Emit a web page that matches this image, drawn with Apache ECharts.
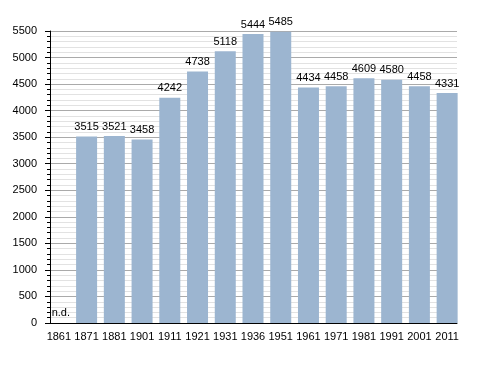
<!DOCTYPE html>
<html><head><meta charset="utf-8">
<script src="https://cdn.jsdelivr.net/npm/echarts@6/dist/echarts.min.js"></script>
<style>html,body{margin:0;padding:0;background:#fff}#c{width:488px;height:373px}</style>
</head><body><div id="c"></div>
<script>
var years = ['1861','1871','1881','1901','1911','1921','1931','1936','1951','1961','1971','1981','1991','2001','2011'];
var population = [null,3515,3521,3458,4242,4738,5118,5444,5485,4434,4458,4609,4580,4458,4331];
var yTicks = [0,500,1000,1500,2000,2500,3000,3500,4000,4500,5000,5500];

var chart = echarts.init(document.getElementById('c'));
var data = population.map(function(v){
  if (v === null) return {value: 0, label: {show: true, formatter: 'n.d.', position: 'insideBottom', offset: [2, -1]}};
  return v;
});
var yMin = yTicks[0], yMax = yTicks[yTicks.length-1];
chart.setOption({
  animation: false,
  textStyle: {fontFamily: 'Liberation Sans, Arial, sans-serif'},
  grid: [
    {left: 50, top: 31, right: 31, bottom: 50},
    {left: 45, top: 31, right: 27, bottom: 50}
  ],
  xAxis: [
    {gridIndex: 0, type: 'category', data: years,
     axisLine: {lineStyle: {color: '#000', width: 1}},
     axisTick: {show: false}, axisLabel: {show: false}},
    {gridIndex: 1, type: 'category', data: years,
     axisLine: {show: false}, axisTick: {show: false},
     axisLabel: {color: '#000', fontSize: 11, margin: 8, interval: 0}}
  ],
  yAxis: [
    {gridIndex: 0, type: 'value', min: yMin, max: yMax, interval: 500,
     axisLine: {show: true, lineStyle: {color: '#000'}},
     axisTick: {show: true, length: 5, lineStyle: {color: '#000'}},
     minorTick: {show: true, splitNumber: 5, length: 3, lineStyle: {color: '#000'}},
     axisLabel: {color: '#000', fontSize: 11, margin: 13, formatter: function(v){return String(v);}},
     splitLine: {lineStyle: {color: '#aaaaaa', width: 1}},
     minorSplitLine: {show: true, lineStyle: {color: '#e2e2e2', width: 1}}},
    {gridIndex: 1, type: 'value', min: yMin, max: yMax, interval: 500, show: false,
     splitLine: {show: false}}
  ],
  series: [{
    type: 'bar', xAxisIndex: 1, yAxisIndex: 1, data: data, barWidth: 21,
    itemStyle: {color: '#9cb5d0'},
    label: {show: true, position: 'top', color: '#000', fontSize: 11, distance: 4}
  }]
});
</script></body></html>
